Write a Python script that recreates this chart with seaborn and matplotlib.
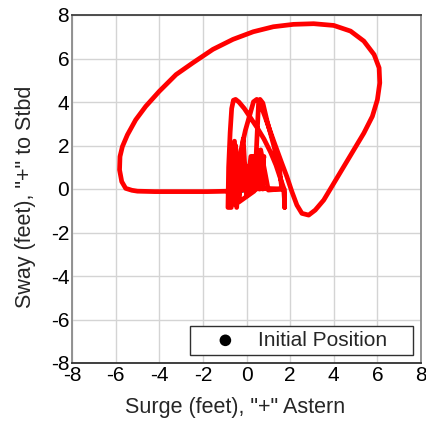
import matplotlib
matplotlib.use("Agg")
import matplotlib.pyplot as plt
import seaborn as sns
import pandas as pd

# Vessel excursion track: surge (ft, + astern) vs sway (ft, + to starboard)
surge = [
    -0.2, -0.05, 0.1, 0.3, 0.45, 0.6, 0.75, 0.55, 0.35,
    -0.35, -0.3, -0.45, -0.55, -0.7, -0.85,
    -0.82, -0.75, -0.68, -0.6, -0.5, -0.35, -0.1, 0.2, 0.5, 0.8, 1.1, 1.35, 1.55, 1.72, 1.75, 1.72,
    1.0, 0.2, -0.8, -1.8, -3.0, -4.2, -5.0, -5.25, -5.54, -5.72, -5.82, -5.8, -5.69, -5.46,
    -5.08, -4.62, -4.0, -3.23, -2.46, -1.54, -0.62, 0.31, 1.23, 2.15, 3.08, 4.0, 4.77,
    5.38, 5.85, 6.08, 6.11, 6.0, 5.77, 5.38, 4.92, 4.46, 4.0, 3.54, 3.15, 2.85, 2.54,
    2.31, 2.08, 1.85, 1.62, 1.23, 0.85, 0.62, 0.47, 0.32,
    0.15, -0.05, -0.25, -0.4, -0.55, -0.5, -0.35, -0.15, 0.0, 0.2, 0.35, 0.45,
    0.55, 0.62, 0.75, 0.95, 1.25, 1.5, 1.62, 1.0, 0.65, 0.5, 0.8, 0.6, 0.35, 0.2,
]
sway = [
    0.1, 1.1, -0.2, 1.5, 0.0, 1.6, 0.0, 1.2, -0.1,
    -0.6, 1.6, -0.85, 2.2, -0.85, -0.85,
    1.0, 2.6, 3.7, 4.08, 4.12, 4.0, 3.7, 3.25, 2.8, 2.3, 1.7, 1.1, 0.5, 0.0, -0.85, 0.0,
    0.02, 0.0, -0.1, -0.12, -0.12, -0.12, -0.1, -0.06, 0.03, 0.34, 0.88, 1.49, 1.95, 2.49,
    3.18, 3.8, 4.49, 5.26, 5.8, 6.42, 6.88, 7.23, 7.46, 7.57, 7.6, 7.52, 7.26,
    6.8, 6.18, 5.57, 4.88, 4.1, 3.34, 2.57, 1.8, 1.03, 0.26, -0.51, -0.97, -1.2, -1.12,
    -0.74, -0.12, 0.57, 1.18, 2.25, 3.32, 3.94, 4.12, 4.01,
    3.4, 2.7, 1.8, 0.8, -0.7, 2.0, -0.5, 2.3, -0.3, 1.5, 0.0, 1.7,
    3.9, 4.12, 3.95, 3.1, 2.0, 1.0, 0.0, -0.05, 1.8, 0.1, 1.5, 0.0, 1.1, 0.3,
]
start_surge = [-0.2]
start_sway = [0.1]
ticks = [-8, -6, -4, -2, 0, 2, 4, 6, 8]

sns.set_style("whitegrid", {"grid.color": "#d4d4d4", "axes.edgecolor": "#404040"})
plt.rcParams["font.family"] = ["Liberation Sans", "DejaVu Sans"]

fig = plt.figure(figsize=(4.26, 4.24), dpi=100)
ax = fig.add_axes([72 / 426, 1 - 363 / 424, 349 / 426, 348 / 424])

track = pd.DataFrame({"surge": surge, "sway": sway})
start = pd.DataFrame({"surge": start_surge, "sway": start_sway})

sns.scatterplot(data=start, x="surge", y="sway", color="black", s=70,
                edgecolor="none", label="Initial Position", zorder=2, ax=ax)
sns.lineplot(data=track, x="surge", y="sway", sort=False, estimator=None,
             color="#ff0000", linewidth=3.4, zorder=3, ax=ax, legend=False)

ax.set_xlim(-8, 8)
ax.set_ylim(-8, 8)
ax.set_xticks(ticks)
ax.set_yticks(ticks)
ax.set_xticklabels([str(t) for t in ticks])
ax.set_yticklabels([str(t) for t in ticks])
ax.tick_params(length=0, pad=2, labelsize=15, colors="black")
ax.grid(True, color="#d4d4d4", linewidth=1.0)
ax.set_axisbelow(True)

ax.set_xlabel('Surge (feet), "+" Astern', fontsize=15.5)
ax.set_ylabel('Sway (feet), "+" to Stbd', fontsize=15.5)
ax.xaxis.set_label_coords((235 - 72) / 349, -0.097)
ax.yaxis.set_label_coords(-0.104, (363 - 197) / 348)

for side, col in (("top", "#404040"), ("bottom", "#303030"),
                  ("left", "#8a8a8a"), ("right", "#8a8a8a")):
    ax.spines[side].set_visible(True)
    ax.spines[side].set_color(col)
    ax.spines[side].set_linewidth(1.3)

leg = ax.legend(loc="lower left", bbox_to_anchor=(0.338, 0.023, 0.639, 0.1),
                mode="expand", borderaxespad=0, fontsize=15, frameon=True,
                fancybox=False, framealpha=1, edgecolor="#303030",
                handlelength=2.9, handletextpad=0.1, borderpad=0.25,
                markerscale=1.0)
leg.get_frame().set_linewidth(1.0)

fig.savefig("out.png", dpi=100)
